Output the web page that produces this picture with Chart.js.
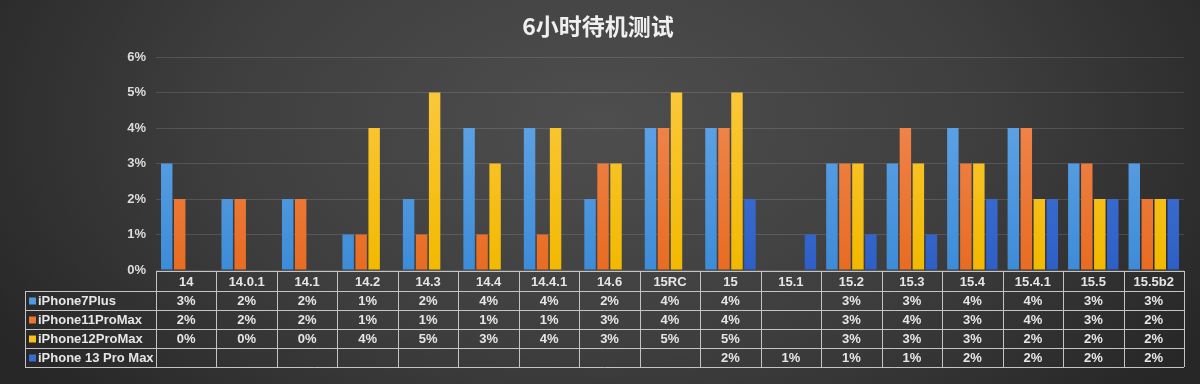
<!DOCTYPE html>
<html>
<head>
<meta charset="utf-8">
<script src="https://cdn.jsdelivr.net/npm/chart.js@4"></script>
<style>
    html, body { margin: 0; padding: 0; }
    body {
        width: 1200px;
        height: 384px;
        background: radial-gradient(ellipse 700px 420px at 600px 120px, #4e4e4e 0%, #3e3e3e 55%, #272727 100%);
        overflow: hidden;
    }
    #wrap { position: relative; width: 1200px; height: 384px; }
</style>
</head>
<body>
<div id="wrap"><canvas id="standbyChart" width="1200" height="384"></canvas></div>
<script>
// Chart data
const chartTitle = '6小时待机测试';
const categories = ['14', '14.0.1', '14.1', '14.2', '14.3', '14.4', '14.4.1', '14.6', '15RC', '15', '15.1', '15.2', '15.3', '15.4', '15.4.1', '15.5', '15.5b2'];
const seriesNames = ['iPhone7Plus', 'iPhone11ProMax', 'iPhone12ProMax', 'iPhone 13 Pro Max'];
const iphone7Plus = [3, 2, 2, 1, 2, 4, 4, 2, 4, 4, null, 3, 3, 4, 4, 3, 3];
const iphone11ProMax = [2, 2, 2, 1, 1, 1, 1, 3, 4, 4, null, 3, 4, 3, 4, 3, 2];
const iphone12ProMax = [0, 0, 0, 4, 5, 3, 4, 3, 5, 5, null, 3, 3, 3, 2, 2, 2];
const iphone13ProMax = [null, null, null, null, null, null, null, null, null, 2, 1, 1, 1, 2, 2, 2, 2];
const yTicks = [0, 1, 2, 3, 4, 5, 6];

const seriesColors = [
    ['#6cabea', '#3d8cd8'],
    ['#f28e5a', '#e86c22'],
    ['#fdca45', '#f2b900'],
    ['#4d7fdc', '#2d5fc6']
];
const legendSwatch = ['#4f9ae2', '#ec7630', '#f7c11a', '#3a6bd0'];

const FONT = '"Liberation Sans", Arial, sans-serif';

function barGradient(idx) {
    return function(context) {
        const chart = context.chart;
        const area = chart.chartArea;
        if (!area) return seriesColors[idx][1];
        const g = chart.ctx.createLinearGradient(0, area.top, 0, area.bottom);
        g.addColorStop(0, seriesColors[idx][0]);
        g.addColorStop(1, seriesColors[idx][1]);
        return g;
    };
}

// Title centred on the whole canvas (built-in title centres on the padded box)
const titlePlugin = {
    id: 'pageTitle',
    afterDraw(chart) {
        const ctx = chart.ctx;
        ctx.save();
        ctx.font = 'bold 23px "Noto Sans CJK SC", ' + FONT;
        ctx.fillStyle = '#f0f0f0';
        ctx.textAlign = 'center';
        ctx.textBaseline = 'middle';
        ctx.fillText(chartTitle, chart.width / 2 - 2, 26);
        ctx.restore();
    }
};

// Draws the data table below the plot: header row, values and legend column
const dataTablePlugin = {
    id: 'dataTable',
    afterDraw(chart) {
        const ctx = chart.ctx;
        const area = chart.chartArea;
        const xScale = chart.scales.x;
        const n = categories.length;
        const colW = (area.right - area.left) / n;
        const top = area.bottom + 1;
        const headerBottom = top + 20;
        const rowH = 19;
        const tableLeft = 25;
        const allSeries = [iphone7Plus, iphone11ProMax, iphone12ProMax, iphone13ProMax];
        const tableBottom = headerBottom + rowH * allSeries.length;

        ctx.save();
        ctx.strokeStyle = '#c4c4c4';
        ctx.lineWidth = 1;

        ctx.beginPath();
        ctx.moveTo(area.left, top + 0.5);
        ctx.lineTo(area.right, top + 0.5);
        for (let r = 0; r <= allSeries.length; r++) {
            const y = Math.round(headerBottom + r * rowH) + 0.5;
            ctx.moveTo(tableLeft, y);
            ctx.lineTo(area.right, y);
        }
        for (let i = 0; i <= n; i++) {
            const x = Math.round(area.left + i * colW) + 0.5;
            ctx.moveTo(x, top);
            ctx.lineTo(x, tableBottom);
        }
        ctx.moveTo(tableLeft + 0.5, headerBottom);
        ctx.lineTo(tableLeft + 0.5, tableBottom);
        ctx.stroke();

        ctx.font = 'bold 13px ' + FONT;
        ctx.fillStyle = '#e6e6e6';
        ctx.textBaseline = 'middle';
        ctx.textAlign = 'center';

        // header row (category labels)
        categories.forEach(function(label, i) {
            ctx.fillText(label, xScale.getPixelForValue(i), top + 11);
        });

        allSeries.forEach(function(values, r) {
            const yc = headerBottom + r * rowH + rowH / 2 + 1;
            ctx.fillStyle = '#e6e6e6';
            ctx.textAlign = 'center';
            values.forEach(function(v, i) {
                if (v === null) return;
                ctx.fillText(v + '%', xScale.getPixelForValue(i), yc);
            });
            ctx.fillStyle = legendSwatch[r];
            ctx.fillRect(tableLeft + 4, yc - 4, 7, 7);
            ctx.fillStyle = '#e6e6e6';
            ctx.textAlign = 'left';
            ctx.fillText(seriesNames[r], tableLeft + 13, yc);
        });
        ctx.restore();
    }
};

const chartCtx = document.getElementById('standbyChart');
new Chart(chartCtx, {
    type: 'bar',
    data: {
        labels: categories,
        datasets: [iphone7Plus, iphone11ProMax, iphone12ProMax, iphone13ProMax].map(function(values, i) {
            return {
                label: seriesNames[i],
                data: values,
                backgroundColor: barGradient(i),
                borderWidth: 0,
                categoryPercentage: 0.86,
                barPercentage: 0.88
            };
        })
    },
    options: {
        responsive: false,
        animation: false,
        layout: {
            padding: { left: 116, right: 16, top: 57, bottom: 93 }
        },
        plugins: {
            legend: { display: false },
            tooltip: { enabled: false },
            title: { display: false }
        },
        scales: {
            x: {
                grid: { display: false },
                border: { display: false },
                ticks: { display: false },
                afterFit: function(scale) { scale.height = 21; }
            },
            y: {
                min: 0,
                max: 6,
                afterBuildTicks: function(scale) {
                    scale.ticks = yTicks.map(function(v) { return { value: v }; });
                },
                grid: {
                    color: 'rgba(255,255,255,0.13)',
                    lineWidth: 1,
                    drawTicks: false
                },
                border: { display: false },
                ticks: {
                    color: '#dcdcdc',
                    font: { family: FONT, size: 13, weight: 'bold' },
                    padding: 10,
                    callback: function(v) { return v + '%'; }
                },
                afterFit: function(scale) { scale.width = 40; }
            }
        }
    },
    plugins: [titlePlugin, dataTablePlugin]
});
</script>
</body>
</html>
